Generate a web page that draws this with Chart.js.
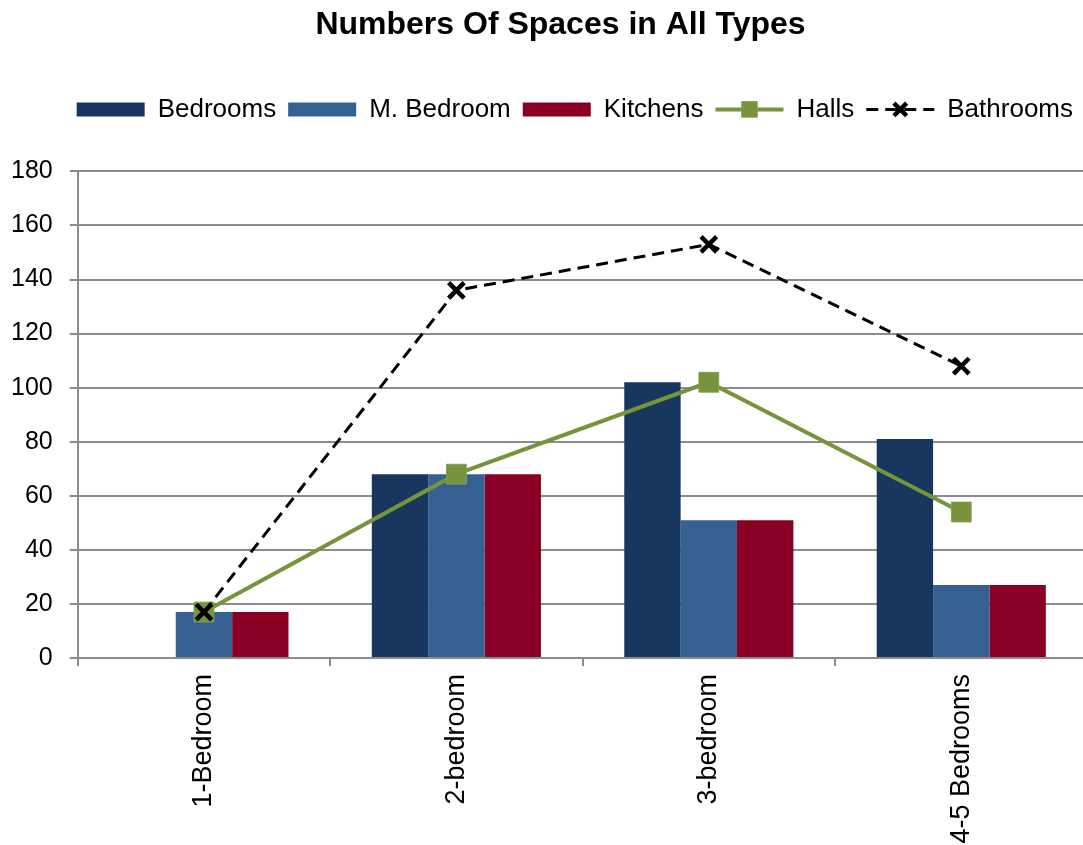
<!DOCTYPE html>
<html>
<head>
<meta charset="utf-8">
<script src="https://cdn.jsdelivr.net/npm/chart.js@4.4.1/dist/chart.umd.min.js"></script>
<style>
  html, body { margin: 0; background: #fff; overflow: hidden; }
  /* a little wider than the window so the plot runs off the right edge like the original */
  #wrap { width: 1103px; height: 845px; position: relative; }
  #spacesChart { display: block; }
</style>
</head>
<body>
<div id="wrap"><canvas id="spacesChart"></canvas></div>
<script>
const categories = ['1-Bedroom', '2-bedroom', '3-bedroom', '4-5 Bedrooms'];
const bedrooms = [0, 68, 102, 81];
const masterBedroom = [17, 68, 51, 27];
const kitchens = [17, 68, 51, 27];
const halls = [17, 68, 102, 54];
const bathrooms = [17, 136, 153, 108];
const yMin = 0;
const yMax = 180;
const yStep = 20;

const FONT = "'Liberation Sans', Arial, sans-serif";
const GRID = '#8c8c8c';

// extra room under the legend, before the plot starts
const legendGap = {
  id: 'legendGap',
  beforeInit(chart) {
    const fit = chart.legend.fit;
    chart.legend.fit = function () {
      fit.bind(chart.legend)();
      this.height += 39;
    };
  }
};

// keep title and legend inside the visible 1083px
const headerShift = {
  id: 'headerShift',
  afterLayout(chart) {
    chart.titleBlock.left += 20;
    chart.legend.right -= 22;
  }
};

// line + marker symbols for the line series in the legend
const legendLines = {
  id: 'legendLines',
  afterDraw(chart) {
    const legend = chart.legend;
    const ctx = chart.ctx;
    const boxW = legend.options.labels.boxWidth;
    legend.legendItems.forEach((item, i) => {
      const ds = chart.data.datasets[item.datasetIndex];
      if (ds.type !== 'line') return;
      const hb = legend.legendHitBoxes[i];
      const y = hb.top + hb.height / 2;
      ctx.save();
      ctx.strokeStyle = ds.borderColor;
      ctx.lineWidth = ds.borderWidth;
      ctx.setLineDash(ds.borderDash || []);
      ctx.beginPath();
      ctx.moveTo(hb.left, y);
      ctx.lineTo(hb.left + boxW, y);
      ctx.stroke();
      ctx.setLineDash([]);
      ctx.fillStyle = ds.pointBackgroundColor;
      ctx.strokeStyle = ds.pointBorderColor;
      ctx.lineWidth = ds.pointBorderWidth;
      Chart.helpers.drawPoint(ctx, {
        pointStyle: ds.pointStyle,
        radius: ds.legendRadius,
        rotation: 0,
        borderWidth: ds.pointBorderWidth
      }, hb.left + boxW / 2, y);
      ctx.restore();
    });
  }
};

const ctx = document.getElementById('spacesChart').getContext('2d');

const spacesChart = new Chart(ctx, {
  type: 'bar',
  data: {
    labels: categories,
    datasets: [
      { label: 'Bedrooms', data: bedrooms, backgroundColor: '#17375E', order: 2 },
      { label: 'M. Bedroom', data: masterBedroom, backgroundColor: '#376092', order: 2 },
      { label: 'Kitchens', data: kitchens, backgroundColor: '#8A0024', order: 2 },
      {
        type: 'line', label: 'Halls', data: halls, order: 1,
        borderColor: '#77933C', borderWidth: 4, backgroundColor: '#77933C',
        pointStyle: 'rect', pointRadius: 14, pointHoverRadius: 14,
        pointBackgroundColor: '#77933C', pointBorderColor: '#86a24a', pointBorderWidth: 1,
        legendRadius: 11
      },
      {
        type: 'line', label: 'Bathrooms', data: bathrooms, order: 0,
        borderColor: '#000', borderWidth: 3, borderDash: [12, 7], backgroundColor: '#000',
        pointStyle: 'crossRot', pointRadius: 11, pointHoverRadius: 11,
        pointBackgroundColor: '#000', pointBorderColor: '#000', pointBorderWidth: 4.5,
        legendRadius: 9
      }
    ]
  },
  options: {
    responsive: true,
    maintainAspectRatio: false,
    animation: false,
    layout: { padding: { left: -6, right: -4, top: 0, bottom: 0 } },
    datasets: {
      bar: { categoryPercentage: 0.67, barPercentage: 1.0 }
    },
    plugins: {
      title: {
        display: true,
        text: 'Numbers Of Spaces in All Types',
        color: '#000',
        font: { family: FONT, size: 32, weight: 'bold' },
        padding: { top: 6, bottom: 40 }
      },
      legend: {
        position: 'top',
        align: 'end',
        labels: {
          color: '#000',
          font: { family: FONT, size: 26 },
          boxWidth: 68,
          boxHeight: 14,
          padding: 12,
          sort: (a, b) => a.datasetIndex - b.datasetIndex,
          generateLabels(chart) {
            const items = Chart.defaults.plugins.legend.labels.generateLabels(chart);
            items.forEach(item => {
              item.lineWidth = 0;
              if (chart.data.datasets[item.datasetIndex].type === 'line') {
                item.fillStyle = 'rgba(0,0,0,0)';
                item.strokeStyle = 'rgba(0,0,0,0)';
              }
            });
            return items;
          }
        }
      },
      tooltip: { enabled: false }
    },
    scales: {
      x: {
        afterFit(scale) { scale.height = 187; },
        grid: { drawOnChartArea: false, drawTicks: true, tickLength: 8, color: GRID, lineWidth: 2 },
        border: { display: false },
        ticks: {
          color: '#000', font: { family: FONT, size: 27 },
          minRotation: 90, maxRotation: 90, padding: 8, autoSkip: false
        }
      },
      y: {
        min: yMin,
        max: yMax,
        grid: { color: GRID, lineWidth: 2, tickLength: 8 },
        border: { color: GRID, width: 2 },
        ticks: { stepSize: yStep, color: '#000', font: { family: FONT, size: 25 }, padding: 17 }
      }
    }
  },
  plugins: [legendGap, headerShift, legendLines]
});
</script>
</body>
</html>
